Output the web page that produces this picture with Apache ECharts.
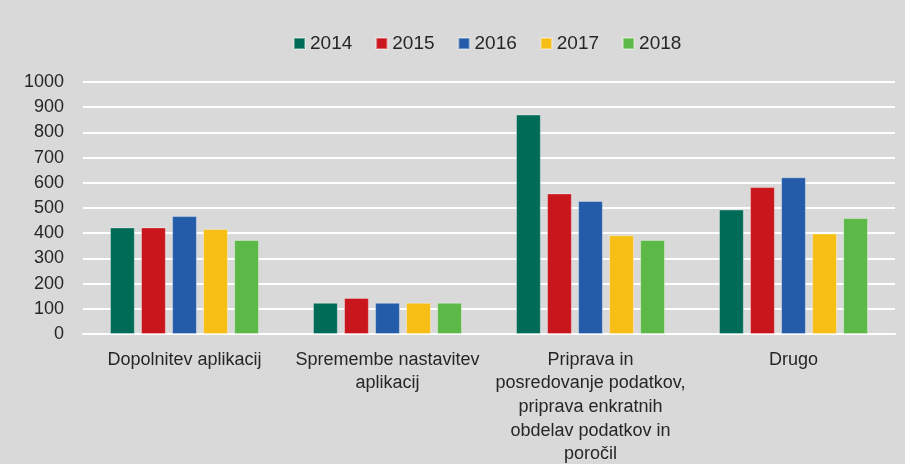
<!DOCTYPE html>
<html>
<head>
<meta charset="utf-8">
<script src="https://cdn.jsdelivr.net/npm/echarts@6/dist/echarts.min.js"></script>
<style>
  html, body { margin: 0; padding: 0; background: #d9d9d9; overflow: hidden; }
  #chart { width: 905px; height: 464px; }
</style>
</head>
<body>
<div id="chart"></div>
<script>
// Categories (labels wrapped as shown under the axis)
const categories = [
  'Dopolnitev aplikacij',
  'Spremembe nastavitev\naplikacij',
  'Priprava in\nposredovanje podatkov,\npriprava enkratnih\nobdelav podatkov in\nporočil',
  'Drugo'
];

const years = ['2014', '2015', '2016', '2017', '2018'];

// Values per year, one entry per category
const values2014 = [423, 124, 871, 494];
const values2015 = [423, 143, 558, 583];
const values2016 = [468, 124, 528, 622];
const values2017 = [417, 124, 392, 399];
const values2018 = [373, 124, 373, 460];

const yTicks = [0, 100, 200, 300, 400, 500, 600, 700, 800, 900, 1000];

const colors = ['#006b57', '#c9161d', '#245ca9', '#f7be16', '#5cb947'];
const seriesValues = [values2014, values2015, values2016, values2017, values2018];

const fontFamily = '"Liberation Sans", Arial, sans-serif';
const textColor = '#262626';

const chart = echarts.init(document.getElementById('chart'));

chart.setOption({
  backgroundColor: '#d9d9d9',
  animation: false,
  color: colors,
  legend: {
    top: 29,
    left: 288,
    itemWidth: 11,
    itemHeight: 11,
    itemGap: 23,
    icon: 'rect',
    textStyle: { fontFamily: fontFamily, fontSize: 19, color: textColor },
    data: years
  },
  grid: {
    left: 83,
    right: 10,
    top: 82,
    bottom: 130,
    outerBoundsMode: 'none',
    containLabel: false
  },
  xAxis: {
    type: 'category',
    data: categories,
    axisLine: { show: true, lineStyle: { color: '#ffffff', width: 2 } },
    axisTick: { show: false },
    axisLabel: {
      interval: 0,
      margin: 14,
      fontFamily: fontFamily,
      fontSize: 18,
      lineHeight: 23.6,
      color: textColor,
      align: 'center'
    }
  },
  yAxis: {
    type: 'value',
    min: yTicks[0],
    max: yTicks[yTicks.length - 1],
    interval: 100,
    axisLine: { show: false },
    axisTick: { show: false },
    axisLabel: {
      margin: 19,
      fontFamily: fontFamily,
      fontSize: 18,
      color: textColor,
      formatter: (v) => String(v)
    },
    splitLine: { show: true, lineStyle: { color: '#ffffff', width: 2 } }
  },
  series: years.map((y, i) => ({
    name: y,
    type: 'bar',
    data: seriesValues[i],
    barGap: '25%',
    barCategoryGap: '26.6%',
    itemStyle: {
      color: colors[i],
      borderColor: 'rgba(255,255,255,0.35)',
      borderWidth: 1
    }
  }))
});
</script>
</body>
</html>
